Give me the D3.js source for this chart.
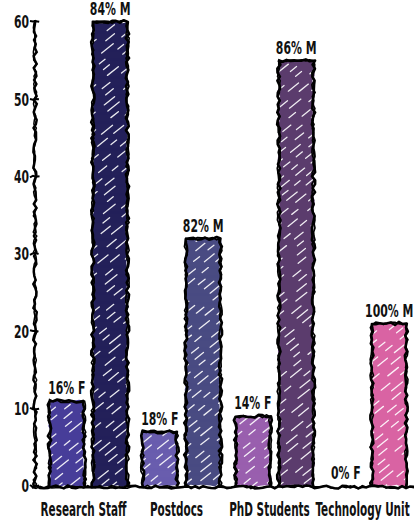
<!DOCTYPE html>
<html><head><meta charset="utf-8">
<script src="https://cdn.jsdelivr.net/npm/d3@7"></script>
<style>
body{margin:0;background:#fff}
text{font-family:"DejaVu Sans",sans-serif;font-weight:bold;fill:#111}
</style>
</head><body>
<svg id="c" width="414" height="521"></svg>
<script>
const categories = ["Research Staff", "Postdocs", "PhD Students", "Technology Unit"];
const femaleCounts = [11, 7, 9, 0];
const maleCounts = [60, 32, 55, 21];
const femaleLabels = ["16% F", "18% F", "14% F", "0% F"];
const maleLabels = ["84% M", "82% M", "86% M", "100% M"];
const femaleColors = ["#4a409c", "#6c60ae", "#9b62b0", "#c060a0"];
const maleColors = ["#262359", "#4c4e82", "#5b3c6d", "#d963a6"];
const yTicks = [0, 10, 20, 30, 40, 50, 60];
const genders = ["F", "M"];

// seeded random for hand-drawn wobble (style only)
function mulberry32(a){return function(){a|=0;a=a+0x6D2B79F5|0;let t=Math.imul(a^a>>>15,1|a);t=t+Math.imul(t^t>>>7,61|t)^t;return((t^t>>>14)>>>0)/4294967296;}}
const rnd = mulberry32(12345);
const jit = s => (rnd()*2-1)*s;

const svg = d3.select("#c");
const y = d3.scaleLinear().domain([0, 60]).range([486, 22]);
const x0 = d3.scaleBand().domain(categories).range([41.5, 413.5]);
const x1 = d3.scaleBand().domain(genders).range([8, 86]).paddingInner(0.2);

function wobble(pts, step, amp){
  const out=[];
  for(let i=0;i<pts.length-1;i++){
    const [ax,ay]=pts[i],[bx,by]=pts[i+1];
    const L=Math.hypot(bx-ax,by-ay), n=Math.max(1,Math.round(L/step));
    const nx=-(by-ay)/L, ny=(bx-ax)/L;
    for(let k=0;k<n;k++){
      const t=k/n, o=jit(amp);
      out.push([ax+(bx-ax)*t+nx*o, ay+(by-ay)*t+ny*o]);
    }
  }
  const l=pts[pts.length-1]; out.push([l[0]+jit(amp*0.5), l[1]+jit(amp*0.5)]);
  return d3.line()(out);
}

const defs = svg.append("defs");
const gBars = svg.append("g");

function drawBar(cat, g, value, color, idx){
  if(value<=0) return;
  const bx = x0(cat)+x1(g), bw = x1.bandwidth();
  const top = y(value), bot = y(0);
  const id = "clip"+idx;
  defs.append("clipPath").attr("id", id).append("rect")
    .attr("x", bx).attr("y", top).attr("width", bw).attr("height", bot-top);
  gBars.append("path")
    .attr("d", wobble([[bx,top],[bx+bw,top],[bx+bw,bot],[bx,bot],[bx,top]], 5, 1.3)+"Z")
    .attr("fill", color);
  const hg = gBars.append("g").attr("clip-path", `url(#${id})`);
  const h = bot-top;
  for(let s=-bw; s<h+bw; s+=9){
    hg.append("line")
      .attr("x1", bx).attr("y1", top+s+bw*0.8).attr("x2", bx+bw).attr("y2", top+s)
      .attr("stroke", "#fff").attr("stroke-width", 1.3).attr("stroke-linecap","round")
      .attr("stroke-dasharray", `${7+rnd()*8} ${8+rnd()*12}`)
      .attr("stroke-dashoffset", rnd()*20)
      .attr("opacity", 0.9);
  }
  for(let p=0;p<2;p++){
    gBars.append("path")
      .attr("d", wobble([[bx,bot+1],[bx,top],[bx+bw,top],[bx+bw,bot+1]], 4, 1.7))
      .attr("fill","none").attr("stroke","#000")
      .attr("stroke-width", p===0?2.6:1.6).attr("stroke-linejoin","round");
  }
}

// condensed text helper: horizontal scale via transform
function condText(parent, x, yy, str, size, f, anchor){
  return parent.append("text")
    .attr("transform", `translate(${x},${yy}) scale(${f},1)`)
    .attr("text-anchor", anchor || "middle")
    .attr("font-size", size).text(str);
}

const labelG = svg.append("g");
categories.forEach((c,i)=>{
  drawBar(c,"F",femaleCounts[i],femaleColors[i],i*2);
  drawBar(c,"M",maleCounts[i],maleColors[i],i*2+1);
  condText(labelG, x0(c)+x1("F")+x1.bandwidth()/2, y(femaleCounts[i])-7, femaleLabels[i], 17, 0.64);
  condText(labelG, x0(c)+x1("M")+x1.bandwidth()/2, y(maleCounts[i])-7, maleLabels[i], 17, 0.64);
  condText(labelG, x0(c)+x0.bandwidth()/2-4.5, 516, c, 19, 0.55);
});

// y axis tick labels via d3 axis, then condensed
const axisG = svg.append("g").attr("transform","translate(35,0)")
  .call(d3.axisLeft(y).tickValues(yTicks).tickSize(0).tickPadding(6));
axisG.select(".domain").remove();
axisG.selectAll(".tick text")
  .attr("font-size",18).attr("fill","#111")
  .attr("font-family","DejaVu Sans").attr("font-weight","bold")
  .attr("transform","scale(0.6,1)")
  .attr("x", -6/0.6);

for(let p=0;p<2;p++){
  svg.append("path").attr("d", wobble([[35,20],[35,488]], 4, 1.8))
    .attr("fill","none").attr("stroke","#000").attr("stroke-width", p?1.5:2.5);
  svg.append("path").attr("d", wobble([[32,487],[414,487]], 4, 1.6))
    .attr("fill","none").attr("stroke","#000").attr("stroke-width", p?1.5:2.5);
}
yTicks.forEach(t=>{
  svg.append("path").attr("d", wobble([[30,y(t)],[39,y(t)]], 3, 1.2))
    .attr("fill","none").attr("stroke","#000").attr("stroke-width",2);
});
</script>
</body></html>
